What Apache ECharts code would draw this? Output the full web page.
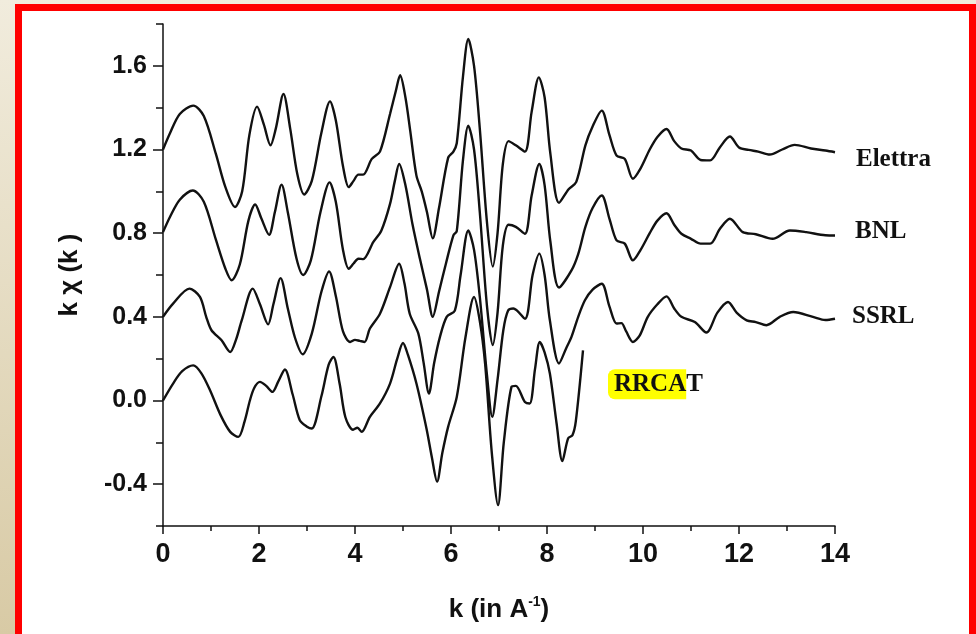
<!DOCTYPE html>
<html>
<head>
<meta charset="utf-8">
<title>k chi(k)</title>
<script src="https://cdn.jsdelivr.net/npm/echarts@6/dist/echarts.min.js"></script>
<style>
  html, body { margin: 0; padding: 0; }
  body {
    width: 976px; height: 634px; overflow: hidden; position: relative;
    background: linear-gradient(to bottom, #f1ecdd, #d8caa5);
  }
  .frame {
    position: absolute; left: 15px; top: 4px; right: 0; bottom: -20px;
    border: 7px solid #ff0000; background: #fff;
  }
  #chart { position: absolute; left: 0; top: 0; width: 976px; height: 634px; }
</style>
</head>
<body>
<div class="frame"></div>
<div id="chart"></div>
<script>
// k, k*chi(k) pairs
var elettra = [[0,1.20],[0.15,1.28],[0.35,1.37],[0.63,1.41],[0.85,1.36],[1.1,1.18],[1.3,1.02],[1.5,0.925],[1.65,1.0],[1.8,1.27],[1.96,1.405],[2.1,1.32],[2.24,1.22],[2.35,1.30],[2.51,1.465],[2.65,1.3],[2.8,1.08],[2.94,0.985],[3.1,1.05],[3.3,1.28],[3.48,1.43],[3.6,1.34],[3.75,1.12],[3.87,1.02],[3.97,1.05],[4.07,1.08],[4.17,1.08],[4.35,1.155],[4.52,1.19],[4.73,1.37],[4.85,1.48],[4.94,1.555],[5.05,1.45],[5.15,1.29],[5.28,1.075],[5.39,1.0],[5.5,0.9],[5.62,0.775],[5.75,0.92],[5.94,1.16],[6.05,1.19],[6.12,1.23],[6.25,1.55],[6.36,1.728],[6.48,1.6],[6.6,1.3],[6.75,0.85],[6.87,0.64],[6.97,0.8],[7.08,1.13],[7.2,1.24],[7.35,1.22],[7.54,1.19],[7.68,1.38],[7.83,1.545],[7.95,1.45],[8.07,1.18],[8.25,0.945],[8.45,1.01],[8.61,1.045],[8.8,1.22],[8.95,1.31],[9.14,1.386],[9.3,1.27],[9.45,1.171],[9.62,1.155],[9.79,1.06],[9.95,1.11],[10.14,1.2],[10.3,1.26],[10.49,1.298],[10.65,1.24],[10.8,1.205],[11.0,1.195],[11.2,1.15],[11.4,1.148],[11.6,1.21],[11.81,1.262],[12.0,1.21],[12.2,1.198],[12.4,1.19],[12.64,1.176],[12.9,1.2],[13.16,1.222],[13.5,1.205],[13.8,1.195],[14,1.187]];

var bnl = [[0,0.805],[0.15,0.88],[0.35,0.96],[0.62,1.004],[0.85,0.95],[1.1,0.77],[1.3,0.63],[1.43,0.575],[1.6,0.65],[1.78,0.86],[1.92,0.937],[2.05,0.87],[2.21,0.792],[2.33,0.9],[2.47,1.032],[2.6,0.9],[2.78,0.68],[2.92,0.60],[3.08,0.67],[3.28,0.9],[3.47,1.043],[3.6,0.95],[3.75,0.72],[3.87,0.63],[3.97,0.655],[4.07,0.678],[4.17,0.676],[4.38,0.757],[4.55,0.813],[4.73,0.94],[4.83,1.05],[4.92,1.131],[5.05,1.03],[5.2,0.84],[5.35,0.68],[5.5,0.53],[5.62,0.40],[5.75,0.52],[5.9,0.66],[6.05,0.79],[6.12,0.81],[6.25,1.15],[6.36,1.314],[6.48,1.2],[6.6,0.9],[6.75,0.45],[6.87,0.265],[6.97,0.42],[7.08,0.74],[7.2,0.84],[7.35,0.83],[7.54,0.797],[7.68,0.98],[7.84,1.131],[7.95,1.03],[8.07,0.76],[8.25,0.54],[8.51,0.622],[8.65,0.7],[8.8,0.83],[8.95,0.92],[9.14,0.98],[9.3,0.87],[9.45,0.765],[9.62,0.75],[9.79,0.67],[9.95,0.72],[10.14,0.8],[10.3,0.86],[10.49,0.895],[10.65,0.84],[10.8,0.797],[11.0,0.773],[11.2,0.75],[11.4,0.75],[11.6,0.82],[11.81,0.869],[12.08,0.805],[12.35,0.795],[12.7,0.773],[13.06,0.813],[13.4,0.805],[13.8,0.79],[14,0.789]];

var ssrl = [[0,0.40],[0.21,0.463],[0.55,0.535],[0.77,0.495],[0.9,0.40],[1.01,0.336],[1.22,0.288],[1.4,0.232],[1.52,0.29],[1.64,0.383],[1.87,0.535],[2.02,0.46],[2.19,0.364],[2.3,0.46],[2.45,0.585],[2.6,0.44],[2.75,0.3],[2.91,0.221],[3.1,0.32],[3.3,0.52],[3.46,0.617],[3.6,0.5],[3.75,0.33],[3.9,0.28],[4.0,0.29],[4.1,0.285],[4.2,0.28],[4.31,0.344],[4.52,0.415],[4.73,0.542],[4.92,0.654],[5.03,0.56],[5.14,0.415],[5.32,0.32],[5.43,0.18],[5.54,0.033],[5.65,0.18],[5.77,0.304],[5.91,0.40],[6.08,0.43],[6.2,0.6],[6.36,0.813],[6.48,0.72],[6.6,0.495],[6.75,0.12],[6.86,-0.078],[6.97,0.1],[7.09,0.336],[7.19,0.43],[7.3,0.44],[7.54,0.391],[7.7,0.6],[7.84,0.702],[7.95,0.6],[8.06,0.383],[8.25,0.177],[8.4,0.25],[8.51,0.304],[8.65,0.4],[8.79,0.479],[8.95,0.53],[9.14,0.558],[9.3,0.45],[9.45,0.368],[9.55,0.37],[9.65,0.33],[9.79,0.28],[9.93,0.31],[10.1,0.4],[10.3,0.46],[10.49,0.498],[10.65,0.44],[10.8,0.40],[11.08,0.375],[11.32,0.325],[11.55,0.42],[11.77,0.471],[11.95,0.42],[12.16,0.383],[12.35,0.375],[12.57,0.36],[12.85,0.4],[13.13,0.423],[13.54,0.40],[13.8,0.385],[14,0.391]];

var rrcat = [[0,0.0],[0.21,0.081],[0.4,0.14],[0.63,0.168],[0.8,0.13],[0.98,0.049],[1.2,-0.07],[1.4,-0.15],[1.57,-0.174],[1.7,-0.1],[1.81,0.0],[1.9,0.06],[2.02,0.089],[2.15,0.07],[2.28,0.041],[2.4,0.09],[2.54,0.148],[2.7,0.03],[2.85,-0.094],[3.0,-0.125],[3.1,-0.134],[3.3,0.02],[3.45,0.17],[3.55,0.208],[3.68,0.08],[3.8,-0.08],[3.96,-0.14],[4.05,-0.13],[4.14,-0.15],[4.31,-0.078],[4.52,-0.014],[4.73,0.081],[4.88,0.2],[5.0,0.275],[5.1,0.22],[5.28,0.081],[5.49,-0.135],[5.6,-0.27],[5.71,-0.388],[5.82,-0.25],[5.94,-0.126],[6.12,0.017],[6.3,0.3],[6.48,0.495],[6.6,0.38],[6.71,0.177],[6.85,-0.25],[6.98,-0.5],[7.1,-0.2],[7.26,0.065],[7.35,0.07],[7.54,-0.007],[7.64,-0.014],[7.75,0.15],[7.85,0.28],[7.95,0.23],[8.06,0.129],[8.2,-0.11],[8.32,-0.29],[8.44,-0.181],[8.53,-0.166],[8.6,-0.1],[8.75,0.24]];

var names = ['Elettra', 'BNL', 'SSRL', 'RRCAT'];
var labelOffsets = [[13, 7], [12, -4], [9, -2], [17, 34]];

var chart = echarts.init(document.getElementById('chart'));

var sans = "'Liberation Sans', Arial, sans-serif";
var serif = "'Liberation Serif', 'Times New Roman', serif";
var ink = '#111';

function curve(i, data) {
  return {
    name: names[i],
    type: 'line',
    xAxisIndex: 0,
    yAxisIndex: 0,
    data: data,
    showSymbol: false,
    symbol: 'none',
    smooth: 0.3,
    lineStyle: { color: ink, width: 2.4 },
    endLabel: {
      show: true,
      offset: labelOffsets[i],
      formatter: function (p) {
        return p.seriesName === 'RRCAT' ? '{h|RRCA}{t|T}' : p.seriesName;
      },
      color: ink,
      fontFamily: serif,
      fontWeight: 'bold',
      fontSize: 25,
      rich: {
        h: { fontFamily: serif, fontWeight: 'bold', fontSize: 25, color: ink,
             backgroundColor: '#ffff00', padding: [3, 0, 2, 6], borderRadius: [7, 0, 0, 7] },
        t: { fontFamily: serif, fontWeight: 'bold', fontSize: 25, color: ink,
             padding: [3, 0, 2, 0] }
      }
    }
  };
}

chart.setOption({
  animation: false,
  grid: [
    { left: 163, top: 24, width: 672, height: 502 },
    // grid for the labelled (long) y ticks: spans -0.4 .. 1.6
    { left: 163, top: 24 + 502 / 12, width: 672, height: 502 * 10 / 12 }
  ],
  xAxis: [{
    gridIndex: 0,
    type: 'value',
    min: 0, max: 14, interval: 2,
    name: '{a|k (in A}{s|-1}{a|)}',
    nameLocation: 'middle',
    nameGap: 69,
    nameTextStyle: {
      rich: {
        a: { fontFamily: sans, fontWeight: 'bold', fontSize: 26, color: ink, lineHeight: 30 },
        s: { fontFamily: sans, fontWeight: 'bold', fontSize: 14, color: ink, verticalAlign: 'top', lineHeight: 30, padding: [0, 0, 14, 0] }
      }
    },
    axisLine: { onZero: false, lineStyle: { color: ink, width: 1.5 } },
    axisTick: { length: 8, lineStyle: { color: ink, width: 1.5 } },
    minorTick: { show: true, splitNumber: 2, length: 5, lineStyle: { color: ink, width: 1.5 } },
    axisLabel: { fontFamily: sans, fontWeight: 'bold', fontSize: 27, color: ink, margin: 15 },
    splitLine: { show: false }
  }, {
    gridIndex: 1, type: 'value', min: 0, max: 14, show: false
  }],
  yAxis: [{
    gridIndex: 0,
    type: 'value',
    min: -0.6, max: 1.8, interval: 0.2,
    name: 'k \u03c7 (k )',
    nameLocation: 'middle',
    nameGap: 80,
    nameTextStyle: { fontFamily: sans, fontWeight: 'bold', fontSize: 26, color: ink },
    axisLine: { onZero: false, lineStyle: { color: ink, width: 1.5 } },
    axisTick: { length: 7, lineStyle: { color: ink, width: 1.5 } },
    axisLabel: { show: false },
    splitLine: { show: false }
  }, {
    gridIndex: 1,
    type: 'value',
    min: -0.4, max: 1.6, interval: 0.4,
    axisLine: { show: false },
    axisTick: { show: true, length: 10, lineStyle: { color: ink, width: 1.5 } },
    axisLabel: {
      fontFamily: sans, fontWeight: 'bold', fontSize: 25, color: ink, margin: 16,
      formatter: function (v) { return v.toFixed(1); }
    },
    splitLine: { show: false }
  }],
  series: [
    curve(0, elettra),
    curve(1, bnl),
    curve(2, ssrl),
    curve(3, rrcat)
  ]
});
</script>
</body>
</html>
